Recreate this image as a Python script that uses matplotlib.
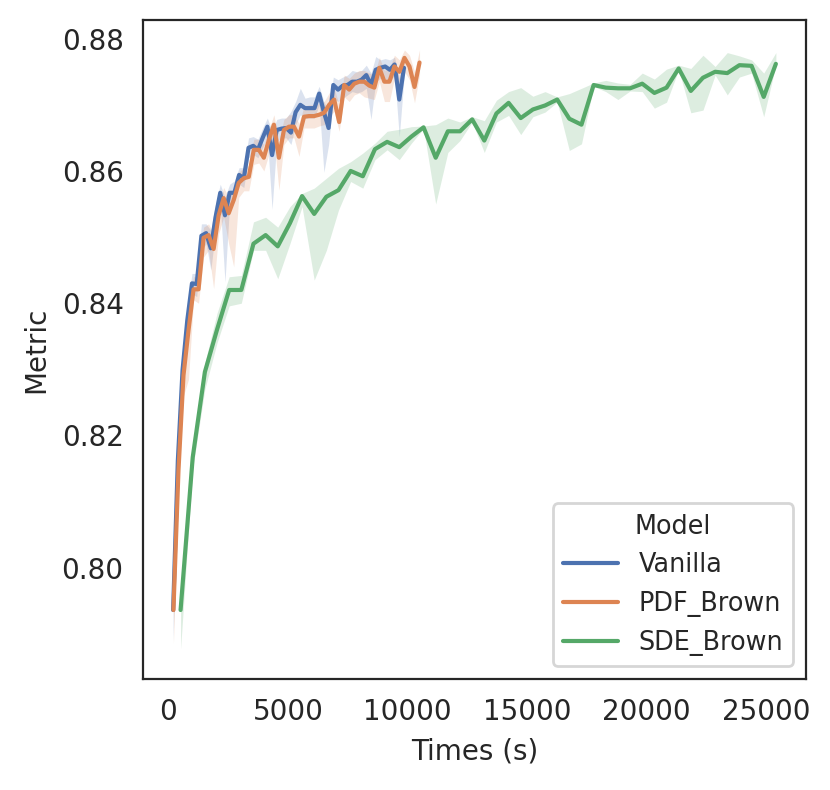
import matplotlib
matplotlib.use("Agg")
import matplotlib.pyplot as plt
import seaborn as sns

sns.set_style("white")

models = ["Vanilla", "PDF_Brown", "SDE_Brown"]
colors = ["#4C72B0", "#DD8452", "#55A868"]

# 50 epochs per run, x is wall time (seconds per epoch differs per model)
epochs = list(range(1, 51))
sec_per_epoch = [197, 210, 508]

vanilla_mean = [0.7936, 0.8162, 0.8299, 0.8374, 0.8430, 0.8429, 0.8502, 0.8506, 0.8483, 0.8530,
                0.8567, 0.8533, 0.8567, 0.8567, 0.8594, 0.8589, 0.8635, 0.8638, 0.8632, 0.8650,
                0.8667, 0.8624, 0.8662, 0.8664, 0.8665, 0.8658, 0.8689, 0.8700, 0.8695, 0.8695,
                0.8695, 0.8717, 0.8689, 0.8665, 0.8730, 0.8723, 0.8729, 0.8730, 0.8735, 0.8735,
                0.8738, 0.8745, 0.8730, 0.8753, 0.8756, 0.8758, 0.8753, 0.8761, 0.8708, 0.8756]
vanilla_low = [0.7890, 0.8130, 0.8280, 0.8355, 0.8415, 0.8410, 0.8480, 0.8490, 0.8450, 0.8510,
               0.8550, 0.8432, 0.8550, 0.8555, 0.8580, 0.8575, 0.8620, 0.8625, 0.8620, 0.8635,
               0.8650, 0.8542, 0.8645, 0.8650, 0.8650, 0.8640, 0.8670, 0.8685, 0.8680, 0.8680,
               0.8680, 0.8700, 0.8598, 0.8640, 0.8710, 0.8705, 0.8710, 0.8715, 0.8720, 0.8718,
               0.8720, 0.8725, 0.8678, 0.8735, 0.8740, 0.8740, 0.8735, 0.8745, 0.8652, 0.8740]
vanilla_high = [0.7945, 0.8190, 0.8320, 0.8395, 0.8445, 0.8445, 0.8520, 0.8520, 0.8510, 0.8550,
                0.8580, 0.8560, 0.8580, 0.8585, 0.8605, 0.8605, 0.8650, 0.8652, 0.8648, 0.8665,
                0.8680, 0.8660, 0.8678, 0.8680, 0.8680, 0.8690, 0.8705, 0.8725, 0.8710, 0.8712,
                0.8712, 0.8728, 0.8705, 0.8690, 0.8742, 0.8738, 0.8742, 0.8745, 0.8752, 0.8750,
                0.8752, 0.8760, 0.8748, 0.8773, 0.8768, 0.8770, 0.8768, 0.8772, 0.8740, 0.8768]

pdf_mean = [0.7936, 0.8147, 0.8291, 0.8359, 0.8421, 0.8421, 0.8499, 0.8503, 0.8482, 0.8533,
            0.8559, 0.8536, 0.8556, 0.8582, 0.8589, 0.8591, 0.8632, 0.8632, 0.8620, 0.8647,
            0.8670, 0.8620, 0.8662, 0.8667, 0.8667, 0.8652, 0.8682, 0.8683, 0.8683, 0.8685,
            0.8688, 0.8700, 0.8708, 0.8674, 0.8730, 0.8723, 0.8732, 0.8735, 0.8735, 0.8729,
            0.8726, 0.8756, 0.8735, 0.8735, 0.8758, 0.8750, 0.8771, 0.8758, 0.8727, 0.8764]
pdf_low = [0.7885, 0.8120, 0.8260, 0.8285, 0.8405, 0.8400, 0.8470, 0.8480, 0.8422, 0.8505,
           0.8530, 0.8490, 0.8455, 0.8560, 0.8570, 0.8570, 0.8610, 0.8612, 0.8600, 0.8625,
           0.8650, 0.8571, 0.8640, 0.8650, 0.8650, 0.8622, 0.8665, 0.8665, 0.8665, 0.8668,
           0.8670, 0.8682, 0.8690, 0.8660, 0.8712, 0.8705, 0.8715, 0.8718, 0.8712, 0.8710,
           0.8708, 0.8735, 0.8705, 0.8705, 0.8740, 0.8728, 0.8750, 0.8738, 0.8703, 0.8745]
pdf_high = [0.7945, 0.8175, 0.8315, 0.8385, 0.8440, 0.8440, 0.8515, 0.8520, 0.8505, 0.8550,
            0.8575, 0.8560, 0.8575, 0.8598, 0.8605, 0.8608, 0.8648, 0.8648, 0.8640, 0.8662,
            0.8685, 0.8645, 0.8678, 0.8685, 0.8685, 0.8672, 0.8698, 0.8700, 0.8700, 0.8702,
            0.8705, 0.8718, 0.8725, 0.8700, 0.8745, 0.8740, 0.8748, 0.8752, 0.8752, 0.8748,
            0.8745, 0.8772, 0.8752, 0.8755, 0.8775, 0.8768, 0.8783, 0.8775, 0.8750, 0.8783]

sde_mean = [0.7936, 0.8167, 0.8296, 0.8360, 0.8420, 0.8420, 0.8490, 0.8503, 0.8486, 0.8521,
            0.8562, 0.8535, 0.8561, 0.8571, 0.8600, 0.8592, 0.8633, 0.8644, 0.8636, 0.8652,
            0.8666, 0.8620, 0.8660, 0.8660, 0.8678, 0.8646, 0.8687, 0.8703, 0.8680, 0.8693,
            0.8699, 0.8708, 0.8679, 0.8670, 0.8730, 0.8726, 0.8725, 0.8725, 0.8732, 0.8718,
            0.8726, 0.8755, 0.8721, 0.8741, 0.8750, 0.8748, 0.8760, 0.8759, 0.8712, 0.8762]
sde_low = [0.7877, 0.8150, 0.8270, 0.8340, 0.8396, 0.8400, 0.8480, 0.8480, 0.8437, 0.8490,
           0.8546, 0.8435, 0.8480, 0.8541, 0.8584, 0.8574, 0.8617, 0.8632, 0.8617, 0.8642,
           0.8664, 0.8550, 0.8628, 0.8646, 0.8674, 0.8628, 0.8674, 0.8684, 0.8655, 0.8682,
           0.8689, 0.8704, 0.8631, 0.8641, 0.8728, 0.8720, 0.8708, 0.8721, 0.8720, 0.8695,
           0.8704, 0.8753, 0.8688, 0.8692, 0.8745, 0.8715, 0.8742, 0.8748, 0.8682, 0.8760]
sde_high = [0.7945, 0.8185, 0.8310, 0.8385, 0.8440, 0.8442, 0.8523, 0.8530, 0.8515, 0.8546,
            0.8566, 0.8574, 0.8589, 0.8604, 0.8614, 0.8627, 0.8642, 0.8660, 0.8663, 0.8667,
            0.8668, 0.8670, 0.8680, 0.8674, 0.8682, 0.8676, 0.8707, 0.8720, 0.8726, 0.8713,
            0.8720, 0.8712, 0.8717, 0.8725, 0.8733, 0.8737, 0.8733, 0.8731, 0.8748, 0.8739,
            0.8754, 0.8760, 0.8755, 0.8775, 0.8758, 0.8779, 0.8774, 0.8768, 0.8748, 0.8779]

means = [vanilla_mean, pdf_mean, sde_mean]
lows = [vanilla_low, pdf_low, sde_low]
highs = [vanilla_high, pdf_high, sde_high]

fig = plt.figure(figsize=(4.15, 3.95), dpi=200)
ax = fig.add_axes([143 / 830, 111 / 790, 663 / 830, 659 / 790])

for name, c, sec, m, lo, hi in zip(models, colors, sec_per_epoch, means, lows, highs):
    t = [e * sec for e in epochs]
    ax.plot(t, m, color=c, lw=1.5, label=name)
    ax.fill_between(t, lo, hi, color=c, alpha=0.2, linewidth=0)

ax.set_xlabel("Times (s)")
ax.set_ylabel("Metric")
ax.legend(title="Model", loc="lower right", fontsize=9.2, title_fontsize=9.2,
          handlelength=2.15)

fig.savefig("out.png", dpi=200)
